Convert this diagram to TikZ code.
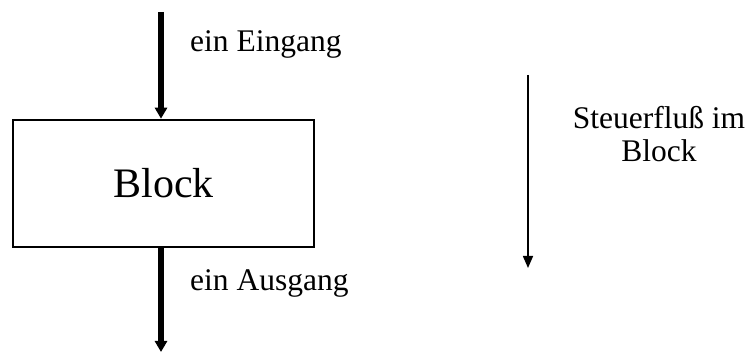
\documentclass[tikz,border=0pt]{standalone}
\usepackage{fontspec}
\setmainfont{Liberation Serif}
\usetikzlibrary{arrows.meta}
\begin{document}
\begin{tikzpicture}[x=1pt,y=-1pt,
  blockbox/.style={draw,line width=2.6pt,minimum width=301pt,minimum height=127pt,inner sep=0pt,
    font=\fontsize{42}{46}\selectfont},
  label/.style={anchor=base west,inner sep=0pt,font=\fontsize{31.5}{34}\selectfont},
  flow/.style={line width=5.5pt,-{Triangle[length=11pt,width=12pt]}},
  thinflow/.style={line width=1.6pt,-{Triangle[length=12pt,width=10pt]}}]
  \useasboundingbox (0,0) rectangle (747,352);
  \node[blockbox] (blk) at (163.5,183.5) {Block};
  \coordinate (in) at (161,12);
  \coordinate (out) at (161,352);
  \draw[flow] (in) -- (in |- blk.north);
  \draw[flow] (out |- blk.south) -- (out);
  \node[label] (ein) at (190,52) {ein Eingang};
  \node[label] (aus) at (190,291) {ein Ausgang};
  \coordinate (ctop) at (528,75);
  \coordinate (cbot) at (528,268);
  \draw[thinflow] (ctop) -- (cbot);
  \node[align=center,inner sep=0pt,anchor=base,font=\fontsize{31.5}{33}\selectfont] (sf) at (659,162)
    {Steuerfluß im\\Block};
\end{tikzpicture}
\end{document}
